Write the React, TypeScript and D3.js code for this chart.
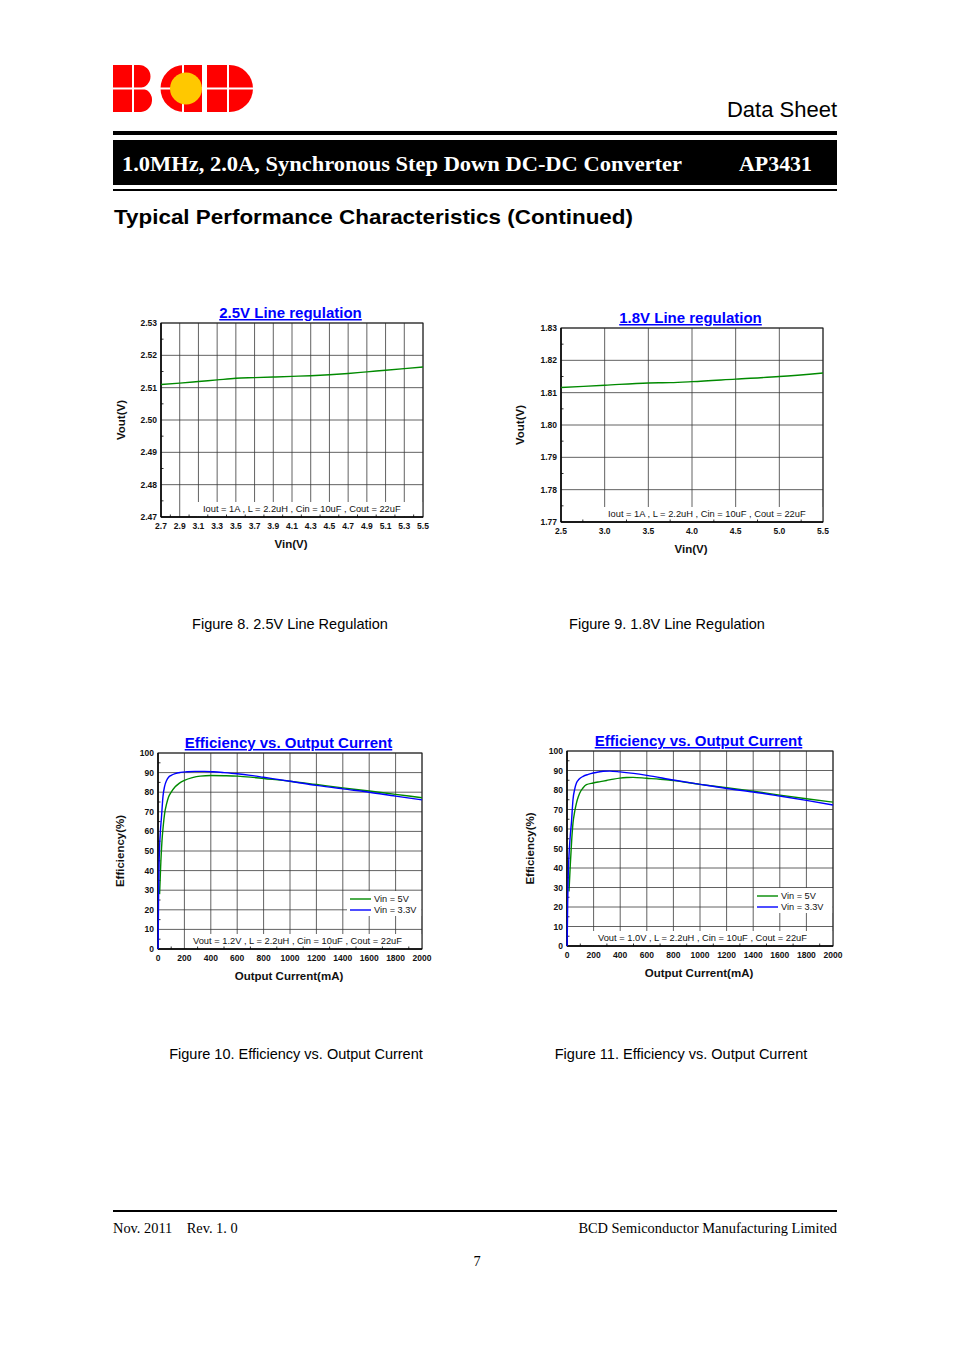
import React from 'react';
import * as d3 from 'd3';

// Figure 8: 2.5V line regulation
const vin25 = [2.7, 2.9, 3.1, 3.3, 3.5, 3.7, 3.9, 4.1, 4.3, 4.5, 4.7, 4.9, 5.1, 5.3, 5.5];
const vout25 = [2.511, 2.5114, 2.5119, 2.5124, 2.5129, 2.5131, 2.5133, 2.5135, 2.5137, 2.514, 2.5144, 2.5149, 2.5154, 2.5159, 2.5164];
const fig8XTicks = [2.7, 2.9, 3.1, 3.3, 3.5, 3.7, 3.9, 4.1, 4.3, 4.5, 4.7, 4.9, 5.1, 5.3, 5.5];
const fig8YTicks = [2.47, 2.48, 2.49, 2.5, 2.51, 2.52, 2.53];

// Figure 9: 1.8V line regulation
const vin18 = [2.5, 3.0, 3.5, 3.75, 4.0, 4.5, 5.0, 5.5];
const vout18 = [1.8116, 1.8123, 1.813, 1.8131, 1.8134, 1.8142, 1.815, 1.8161];
const fig9XTicks = [2.5, 3.0, 3.5, 4.0, 4.5, 5.0, 5.5];
const fig9YTicks = [1.77, 1.78, 1.79, 1.8, 1.81, 1.82, 1.83];

// Figure 10: efficiency, Vout = 1.2V
const f10Vin5I = [12, 20, 30, 40, 50, 65, 80, 100, 130, 160, 200, 260, 320, 400, 500, 600, 700, 800, 1000, 1200, 1400, 1600, 1800, 2000];
const f10Vin5E = [28, 42, 55, 63, 69, 74, 77.5, 80, 82.8, 84.5, 86, 87.4, 88.2, 88.5, 88.4, 88.2, 87.7, 87, 85.6, 83.9, 82.2, 80.6, 78.9, 77.2];
const f10Vin33I = [1, 4, 8, 12, 18, 26, 38, 50, 65, 80, 100, 130, 170, 220, 280, 350, 420, 500, 600, 700, 800, 1000, 1200, 1400, 1600, 1800, 2000];
const f10Vin33E = [0, 25, 43, 52, 60, 67, 78, 83, 86, 87.6, 88.6, 89.5, 90.1, 90.4, 90.6, 90.6, 90.4, 90, 89.4, 88.6, 87.6, 85.6, 83.5, 81.7, 80, 78, 76.1];

// Figure 11: efficiency, Vout = 1.0V
const f11Vin5I = [15, 25, 35, 45, 58, 71, 85, 96, 120, 146, 196, 250, 297, 350, 397, 450, 497, 598, 700, 800, 1000, 1200, 1400, 1600, 1800, 2000];
const f11Vin5E = [28, 42, 54, 63, 69, 73.3, 76.5, 78.5, 81, 82.7, 83.6, 84.3, 84.9, 85.6, 86.1, 86.4, 86.5, 86.0, 85.5, 84.8, 82.9, 81.2, 79.4, 77.4, 75.5, 73.8];
const f11Vin33I = [1, 5, 10, 18, 25, 33, 45, 58, 71, 90, 121, 160, 196, 235, 271, 322, 397, 500, 600, 800, 1000, 1200, 1400, 1600, 1800, 2000];
const f11Vin33E = [0, 22, 38, 50, 57, 63, 75, 80.5, 83.6, 85.5, 87, 88, 88.7, 89.2, 89.6, 89.7, 89.3, 88.5, 87.5, 85.1, 82.9, 80.8, 79, 76.9, 74.7, 72.3];

const effXTicks = [0, 200, 400, 600, 800, 1000, 1200, 1400, 1600, 1800, 2000];
const effYTicks = [0, 10, 20, 30, 40, 50, 60, 70, 80, 90, 100];
const legendLabels = ['Vin = 5V', 'Vin = 3.3V'];

const GREEN = '#008a00';
const BLUE = '#0000ff';
const SANS = '"Liberation Sans", Arial, sans-serif';
const SERIF = '"Liberation Serif", "Times New Roman", serif';

interface Series { x: number[]; y: number[]; color: string }

interface ChartProps {
  left: number; right: number; top: number; bottom: number;
  xDomain: [number, number]; yDomain: [number, number];
  xTicks: number[]; xMinor: number[]; yTicks: number[]; yMinor: number[];
  xFmt: (v: number) => string; yFmt: (v: number) => string;
  title: string; xTitle: string; yTitle: string; yTitleX: number;
  note: string; noteX: number;
  series: Series[];
  legend?: { x: number; y: number };
}

const Chart: React.FC<ChartProps> = (p) => {
  const x = d3.scaleLinear().domain(p.xDomain).range([p.left, p.right]);
  const y = d3.scaleLinear().domain(p.yDomain).range([p.bottom, p.top]);
  const line = d3.line<[number, number]>()
    .x(d => x(d[0]))
    .y(d => y(d[1]))
    .curve(d3.curveMonotoneX);
  const cx = (p.left + p.right) / 2;
  const cy = (p.top + p.bottom) / 2;

  return (
    <g fontFamily={SANS}>
      {/* grid */}
      {p.xTicks.map((t, i) => (
        <line key={'gx' + i} x1={x(t)} x2={x(t)} y1={p.top} y2={p.bottom} stroke="#3a3a3a" strokeWidth={0.8} />
      ))}
      {p.yTicks.map((t, i) => (
        <line key={'gy' + i} x1={p.left} x2={p.right} y1={y(t)} y2={y(t)} stroke="#3a3a3a" strokeWidth={0.8} />
      ))}
      {/* white boxes behind note and legend */}
      <rect x={p.noteX - 6} y={p.bottom - 15} width={p.right - p.noteX + 5.5} height={14.5} fill="#fff" />
      {p.legend && (
        <rect x={p.legend.x - 3} y={p.legend.y - 8} width={p.right - p.legend.x + 2.5} height={25} fill="#fff" />
      )}
      {/* minor ticks */}
      {p.xMinor.map((t, i) => (
        <line key={'mx' + i} x1={x(t)} x2={x(t)} y1={p.bottom} y2={p.bottom - 2.5} stroke="#333" strokeWidth={1} />
      ))}
      {p.yMinor.map((t, i) => (
        <line key={'my' + i} x1={p.left} x2={p.left + 2.5} y1={y(t)} y2={y(t)} stroke="#333" strokeWidth={1} />
      ))}
      <rect x={p.left} y={p.top} width={p.right - p.left} height={p.bottom - p.top} fill="none" stroke="#222" strokeWidth={1} />
      <line x1={p.left} x2={p.left} y1={p.top} y2={p.bottom} stroke="#000" strokeWidth={1.4} />
      <line x1={p.left} x2={p.right} y1={p.bottom} y2={p.bottom} stroke="#000" strokeWidth={1.4} />

      {/* data */}
      {p.series.map((s, i) => (
        <path key={'s' + i} d={line(s.x.map((v, j) => [v, s.y[j]] as [number, number])) || ''}
          fill="none" stroke={s.color} strokeWidth={1.4} />
      ))}

      {/* tick labels */}
      {p.xTicks.map((t, i) => (
        <text key={'tx' + i} x={x(t)} y={p.bottom + 11.5} fontSize={8.5} fontWeight="bold" textAnchor="middle" fill="#111">
          {p.xFmt(t)}
        </text>
      ))}
      {p.yTicks.map((t, i) => (
        <text key={'ty' + i} x={p.left - 4} y={y(t) + 3} fontSize={8.5} fontWeight="bold" textAnchor="end" fill="#111">
          {p.yFmt(t)}
        </text>
      ))}

      {/* titles */}
      <text x={cx - 1.5} y={p.top - 5} fontSize={15} fontWeight="bold" textAnchor="middle" fill={BLUE} textDecoration="underline">
        {p.title}
      </text>
      <text x={cx - 1} y={p.bottom + 31} fontSize={11.5} fontWeight="bold" textAnchor="middle" fill="#111">
        {p.xTitle}
      </text>
      <text transform={`translate(${p.yTitleX},${cy}) rotate(-90)`} fontSize={11.5} fontWeight="bold" textAnchor="middle" fill="#111">
        {p.yTitle}
      </text>
      <text x={p.noteX} y={p.bottom - 5} fontSize={9.3} fill="#111">{p.note}</text>

      {p.legend && p.series.map((s, i) => (
        <g key={'lg' + i}>
          <line x1={p.legend!.x} x2={p.legend!.x + 21} y1={p.legend!.y + i * 11} y2={p.legend!.y + i * 11} stroke={s.color} strokeWidth={1.4} />
          <text x={p.legend!.x + 24} y={p.legend!.y + i * 11 + 3} fontSize={9.2} fill="#111">{legendLabels[i]}</text>
        </g>
      ))}
    </g>
  );
};

const Logo: React.FC = () => {
  const red = '#ff0000';
  return (
    <g>
      {/* B */}
      <path d="M113,65 H139 A11.5,11.5 0 0 1 139,88 A12,12 0 0 1 141,112 H113 Z" fill={red} />
      {/* C */}
      <path d="M202,65 H184 A23.5,23.5 0 0 0 184,112 H202 Z" fill={red} />
      {/* D */}
      <path d="M207,65 H229.5 A23.5,23.5 0 0 1 229.5,112 H207 Z" fill={red} />
      <line x1={112} x2={254} y1={88.5} y2={88.5} stroke="#fff" strokeWidth={2} />
      <line x1={133} x2={133} y1={64} y2={113} stroke="#fff" strokeWidth={2} />
      <line x1={183} x2={183} y1={64} y2={113} stroke="#fff" strokeWidth={2} />
      <line x1={228} x2={228} y1={64} y2={113} stroke="#fff" strokeWidth={2} />
      <circle cx={186} cy={88.5} r={16} fill="#ffc800" />
    </g>
  );
};

const f2 = (v: number) => v.toFixed(2);
const f1 = (v: number) => v.toFixed(1);
const f0 = (v: number) => String(v);

export default function App() {
  return (
    <svg width={954} height={1351} style={{ position: 'absolute', left: 0, top: 0, background: '#fff' }}>
      <rect width={954} height={1351} fill="#fff" />
      <Logo />
      <text x={837} y={117} fontFamily={SANS} fontSize={22} textAnchor="end" fill="#000">Data Sheet</text>
      <rect x={113} y={131} width={724} height={4} fill="#000" />
      <rect x={113} y={140} width={724} height={45} fill="#000" />
      <text x={122} y={171} fontFamily={SERIF} fontSize={22} fontWeight="bold" fill="#fff" textLength={560} lengthAdjust="spacingAndGlyphs">
        1.0MHz, 2.0A, Synchronous Step Down DC-DC Converter
      </text>
      <text x={739} y={171} fontFamily={SERIF} fontSize={22} fontWeight="bold" fill="#fff" textLength={73} lengthAdjust="spacingAndGlyphs">AP3431</text>
      <rect x={113} y={189} width={724} height={2} fill="#000" />
      <text x={114} y={224} fontFamily={SANS} fontSize={21} fontWeight="bold" fill="#000" textLength={519} lengthAdjust="spacingAndGlyphs">
        Typical Performance Characteristics (Continued)
      </text>

      <Chart left={161} right={423} top={323} bottom={517}
        xDomain={[2.7, 5.5]} yDomain={[2.47, 2.53]}
        xTicks={fig8XTicks} xMinor={d3.range(2.8, 5.45, 0.2)}
        yTicks={fig8YTicks} yMinor={d3.range(2.475, 2.53, 0.01)}
        xFmt={f1} yFmt={f2}
        title="2.5V Line regulation" xTitle="Vin(V)" yTitle="Vout(V)" yTitleX={125}
        note="Iout = 1A , L = 2.2uH , Cin = 10uF , Cout = 22uF" noteX={203}
        series={[{ x: vin25, y: vout25, color: GREEN }]} />

      <Chart left={561} right={823} top={328} bottom={522}
        xDomain={[2.5, 5.5]} yDomain={[1.77, 1.83]}
        xTicks={fig9XTicks} xMinor={d3.range(2.75, 5.5, 0.5)}
        yTicks={fig9YTicks} yMinor={d3.range(1.775, 1.83, 0.01)}
        xFmt={f1} yFmt={f2}
        title="1.8V Line regulation" xTitle="Vin(V)" yTitle="Vout(V)" yTitleX={524}
        note="Iout = 1A , L = 2.2uH , Cin = 10uF , Cout = 22uF" noteX={608}
        series={[{ x: vin18, y: vout18, color: GREEN }]} />

      <Chart left={158} right={422} top={753} bottom={949}
        xDomain={[0, 2000]} yDomain={[0, 100]}
        xTicks={effXTicks} xMinor={d3.range(100, 2000, 200)}
        yTicks={effYTicks} yMinor={d3.range(5, 100, 10)}
        xFmt={f0} yFmt={f0}
        title="Efficiency vs. Output Current" xTitle="Output Current(mA)" yTitle="Efficiency(%)" yTitleX={124}
        note="Vout = 1.2V , L = 2.2uH , Cin = 10uF , Cout = 22uF" noteX={193}
        series={[{ x: f10Vin5I, y: f10Vin5E, color: GREEN }, { x: f10Vin33I, y: f10Vin33E, color: BLUE }]}
        legend={{ x: 350, y: 899 }} />

      <Chart left={567} right={833} top={751} bottom={946}
        xDomain={[0, 2000]} yDomain={[0, 100]}
        xTicks={effXTicks} xMinor={d3.range(100, 2000, 200)}
        yTicks={effYTicks} yMinor={d3.range(5, 100, 10)}
        xFmt={f0} yFmt={f0}
        title="Efficiency vs. Output Current" xTitle="Output Current(mA)" yTitle="Efficiency(%)" yTitleX={534}
        note="Vout = 1.0V , L = 2.2uH , Cin = 10uF , Cout = 22uF" noteX={598}
        series={[{ x: f11Vin5I, y: f11Vin5E, color: GREEN }, { x: f11Vin33I, y: f11Vin33E, color: BLUE }]}
        legend={{ x: 757, y: 896 }} />

      <g fontFamily={SANS} fontSize={14.5} fill="#000" textAnchor="middle">
        <text x={290} y={629}>Figure 8. 2.5V Line Regulation</text>
        <text x={667} y={629}>Figure 9. 1.8V Line Regulation</text>
        <text x={296} y={1059}>Figure 10. Efficiency vs. Output Current</text>
        <text x={681} y={1059}>Figure 11. Efficiency vs. Output Current</text>
      </g>

      <rect x={113} y={1210} width={724} height={2} fill="#000" />
      <text x={113} y={1233} fontFamily={SERIF} fontSize={14.4} fill="#000" xmlSpace="preserve">Nov. 2011    Rev. 1. 0</text>
      <text x={837} y={1233} fontFamily={SERIF} fontSize={14.4} fill="#000" textAnchor="end">BCD Semiconductor Manufacturing Limited</text>
      <text x={477} y={1266} fontFamily={SERIF} fontSize={14.4} fill="#000" textAnchor="middle">7</text>
    </svg>
  );
}
